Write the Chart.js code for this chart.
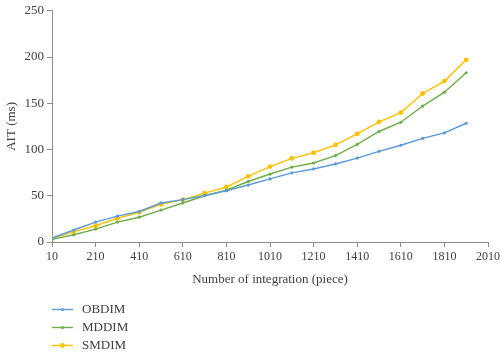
<!DOCTYPE html>
<html>
<head>
<meta charset="utf-8">
<script src="https://cdn.jsdelivr.net/npm/chart.js@4"></script>
<style>
  html, body { margin: 0; padding: 0; background: #fff; }
  #wrap { width: 500px; height: 354px; }
</style>
</head>
<body>
<div id="wrap"><canvas id="c" width="500" height="354"></canvas></div>
<script>
// integration counts (x) and AIT in ms for each method
const counts = [10, 110, 210, 310, 410, 510, 610, 710, 810, 910, 1010, 1110, 1210, 1310, 1410, 1510, 1610, 1710, 1810, 1910];
const obdim = [4.2, 13, 21.5, 28, 33, 42.2, 45.8, 50.3, 55.3, 61.6, 68.2, 74.8, 79, 84.4, 90.7, 98, 104.6, 112, 118, 128.4];
const mddim = [2.8, 7.8, 14, 21.5, 26.8, 34.5, 42.2, 50, 56, 65.4, 73.5, 81, 85.4, 93.3, 105.6, 119.5, 129.5, 147, 162, 183];
const smdim = [3.6, 11.3, 17.6, 25.7, 32, 40.8, 45.8, 52.8, 59.5, 71, 81.6, 90.4, 96.5, 105, 117, 130, 140, 160.6, 174, 197];
const xTicks = [10, 210, 410, 610, 810, 1010, 1210, 1410, 1610, 1810, 2010];
const yTicks = [0, 50, 100, 150, 200, 250];

const serif = '"Liberation Serif", "DejaVu Serif", serif';
const textColor = '#404040';
const axisColor = '#8c8c8c';

function series(label, values, color, radius) {
  return {
    label,
    data: counts.map((x, i) => ({ x, y: values[i] })),
    borderColor: color,
    backgroundColor: color,
    borderWidth: 1.4,
    pointRadius: radius,
    pointBorderWidth: 0,
    pointHoverRadius: radius,
    tension: 0
  };
}

// legend stacked vertically under the axis title
const stackedLegend = {
  id: 'stackedLegend',
  afterDraw(chart) {
    const ctx = chart.ctx;
    const rows = [309.5, 327.5, 345.5];
    ctx.save();
    chart.data.datasets.forEach((ds, i) => {
      const y = rows[i];
      ctx.strokeStyle = ds.borderColor;
      ctx.lineWidth = 1.4;
      ctx.beginPath();
      ctx.moveTo(52, y);
      ctx.lineTo(73, y);
      ctx.stroke();
      ctx.fillStyle = ds.backgroundColor;
      ctx.beginPath();
      ctx.arc(62.5, y, ds.pointRadius, 0, Math.PI * 2);
      ctx.fill();
      ctx.fillStyle = textColor;
      ctx.font = '13px ' + serif;
      ctx.textBaseline = 'middle';
      ctx.textAlign = 'left';
      ctx.fillText(ds.label, 82, y);
    });
    ctx.restore();
  }
};

new Chart(document.getElementById('c'), {
  type: 'line',
  data: {
    datasets: [
      series('OBDIM', obdim, '#5b9bd5', 1.6),
      series('MDDIM', mddim, '#70ad47', 1.6),
      series('SMDIM', smdim, '#ffc000', 2.4)
    ]
  },
  options: {
    responsive: false,
    animation: false,
    layout: { padding: { top: 7, left: 0, right: 0, bottom: 67 } },
    plugins: {
      legend: { display: false },
      tooltip: { enabled: false }
    },
    scales: {
      x: {
        type: 'linear',
        min: 10,
        max: 2010,
        afterBuildTicks: s => { s.ticks = xTicks.map(v => ({ value: v })); },
        afterFit: s => { s.height = 45; s.paddingRight = 12; },
        grid: { display: true, drawOnChartArea: false, drawTicks: true, tickLength: 5, color: axisColor },
        border: { color: axisColor, width: 1 },
        ticks: { color: textColor, font: { family: serif, size: 12 }, padding: 3, maxRotation: 0, autoSkip: false, callback: v => String(v) },
        title: { display: true, text: 'Number of integration (piece)', color: textColor, font: { family: serif, size: 13 }, padding: { top: 0, bottom: 0 } }
      },
      y: {
        min: 0,
        max: 250,
        afterBuildTicks: s => { s.ticks = yTicks.map(v => ({ value: v })); },
        afterFit: s => { s.width = 52; },
        grid: { display: true, drawOnChartArea: false, drawTicks: true, tickLength: 5, color: axisColor },
        border: { color: axisColor, width: 1 },
        ticks: { color: textColor, font: { family: serif, size: 13 }, padding: 3 },
        title: { display: true, text: 'AIT (ms)', color: textColor, font: { family: serif, size: 13 }, padding: { top: 4, bottom: 0 } }
      }
    }
  },
  plugins: [stackedLegend]
});
</script>
</body>
</html>
